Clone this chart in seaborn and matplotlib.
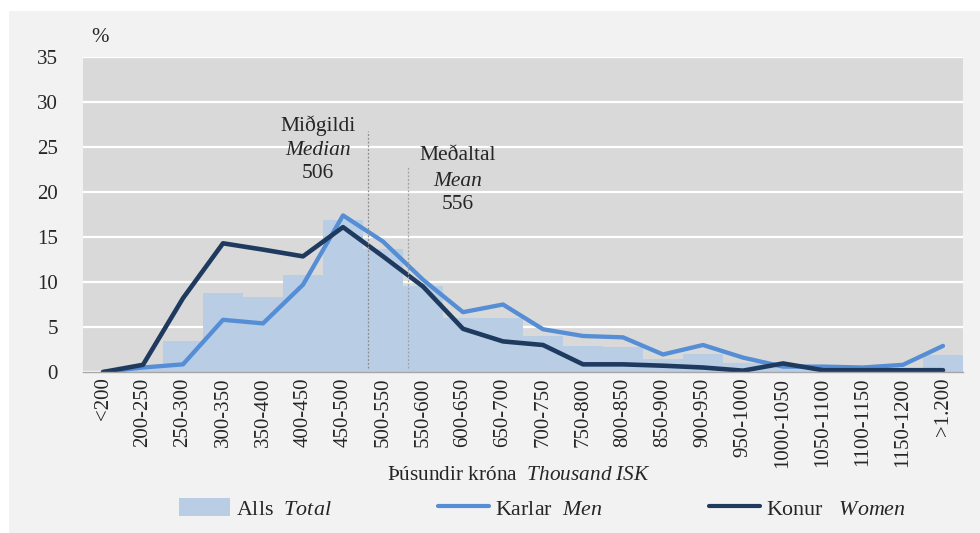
import numpy as np
import pandas as pd
import matplotlib.pyplot as plt
import seaborn as sns
from matplotlib.patches import Rectangle, Patch
from matplotlib.lines import Line2D

# income bins (thousand ISK)
categories = [
    "<200", "200-250", "250-300", "300-350", "350-400", "400-450", "450-500",
    "500-550", "550-600", "600-650", "650-700", "700-750", "750-800", "800-850",
    "850-900", "900-950", "950-1000", "1000-1050", "1050-1100", "1100-1150",
    "1150-1200", ">1.200",
]
total_pct = [0.0, 0.4, 3.4, 8.8, 8.3, 10.8, 16.9, 13.7, 9.6, 6.0, 6.0, 4.0,
             2.9, 2.75, 1.5, 2.0, 1.05, 0.6, 0.65, 0.55, 0.5, 1.9]
men_pct = [0.0, 0.5, 0.85, 5.8, 5.4, 9.7, 17.4, 14.5, 10.25, 6.65, 7.5, 4.75,
           4.0, 3.85, 1.95, 3.0, 1.6, 0.6, 0.6, 0.5, 0.8, 2.9]
women_pct = [0.0, 0.8, 8.2, 14.3, 13.6, 12.85, 16.1, 12.85, 9.5, 4.8, 3.4, 3.0,
             0.85, 0.85, 0.7, 0.5, 0.15, 0.95, 0.2, 0.2, 0.2, 0.2]
median_val = 506
mean_val = 556

SERIF = "Liberation Serif"
C_TOTAL = "#B9CDE5"
C_MEN = "#558ED5"
C_WOMEN = "#1F3A5F"


def value_to_pos(v):
    # bin "200-250" sits at index 1, i.e. 200 -> 0.5
    return (v - 200) / 50 + 0.5


def main() -> None:
    sns.set_style("white")
    plt.rcParams["font.family"] = [SERIF, "DejaVu Serif"]
    plt.rcParams["mathtext.fontset"] = "custom"
    plt.rcParams["mathtext.rm"] = SERIF
    plt.rcParams["mathtext.it"] = SERIF + ":italic"

    df = pd.DataFrame({"bin": categories, "total": total_pct})
    idx = np.arange(len(categories))

    fig = plt.figure(figsize=(9.8, 5.33), dpi=100, facecolor="white")
    fig.patches.append(Rectangle((9 / 980, 0), 1, 1 - 11 / 533, transform=fig.transFigure,
                                 facecolor="#F2F2F2", edgecolor="none", zorder=-10))
    ax = fig.add_axes([83 / 980, 1 - 372 / 533, 880 / 980, 315 / 533])
    ax.set_facecolor("#D9D9D9")

    sns.barplot(data=df, x="bin", y="total", color=C_TOTAL, width=1.0,
                saturation=1, ax=ax, zorder=2, linewidth=0, edgecolor=C_TOTAL)
    sns.lineplot(x=idx, y=men_pct, color=C_MEN, lw=3.1, ax=ax, zorder=3,
                 solid_capstyle="round")
    sns.lineplot(x=idx, y=women_pct, color=C_WOMEN, lw=3.3, ax=ax, zorder=4,
                 solid_capstyle="round")

    ax.set_ylim(0, 35)
    ax.set_xlim(-0.5, len(categories) - 0.5)
    ax.set_yticks(range(0, 36, 5))
    ax.yaxis.grid(True, color="white", lw=1.6, zorder=1)
    ax.set_axisbelow(True)
    for s in ["top", "right", "left"]:
        ax.spines[s].set_visible(False)
    ax.spines["bottom"].set_color("#A6A6A6")
    ax.spines["bottom"].set_linewidth(1)
    ax.spines["bottom"].set_zorder(5)
    ax.tick_params(axis="y", length=0, pad=18, labelsize=15)
    ax.tick_params(axis="x", length=0, pad=4, labelsize=15)
    ax.set_xticks(idx)
    ax.set_xticklabels(categories, rotation=90, va="top", ha="center")
    ax.set_xlabel("")
    ax.set_ylabel("")

    # median / mean markers
    med_x = value_to_pos(median_val)
    mean_x = value_to_pos(mean_val)
    ax.plot([med_x, med_x], [0.5, 26.8], ls=(0, (1.5, 1.5)), color="#8C8C8C", lw=0.9, zorder=5)
    ax.plot([mean_x, mean_x], [0.5, 22.9], ls=(0, (1.5, 1.5)), color="#A0A0A0", lw=0.9, zorder=5)

    ax.text(med_x - 1.25, 27.4, "Miðgildi", ha="center", va="center", fontsize=15.5)
    ax.text(med_x - 1.25, 24.6, "Median", ha="center", va="center", fontsize=15.5, style="italic")
    ax.text(med_x - 1.25, 22.0, str(median_val), ha="center", va="center", fontsize=15.5)
    ax.text(mean_x + 1.25, 24.0, "Meðaltal", ha="center", va="center", fontsize=15.5)
    ax.text(mean_x + 1.25, 21.2, "Mean", ha="center", va="center", fontsize=15.5, style="italic")
    ax.text(mean_x + 1.25, 18.6, str(mean_val), ha="center", va="center", fontsize=15.5)

    fig.text(100 / 980, 1 - 38 / 533, "%", ha="center", va="center", fontsize=15)
    fig.text(519 / 980, 1 - 476 / 533, r"Þúsundir króna  $\mathit{Thousand\ ISK}$",
             ha="center", va="center", fontsize=15.3)

    handles = [
        Patch(facecolor=C_TOTAL, edgecolor="none"),
        Line2D([], [], color=C_MEN, lw=3, solid_capstyle="round"),
        Line2D([], [], color=C_WOMEN, lw=3, solid_capstyle="round"),
    ]
    labels = [r"Alls  $\mathit{Total}$", r"Karlar  $\mathit{Men}$", r"Konur   $\mathit{Women}$"]
    fig.legend(handles, labels, loc="center", bbox_to_anchor=(542 / 980, 1 - 509 / 533),
               ncol=3, frameon=False, fontsize=15.8, handlelength=2.35, handleheight=0.9,
               handletextpad=0.25, columnspacing=4.85)

    fig.savefig("out.png", dpi=100, facecolor=fig.get_facecolor())
    plt.close(fig)


if __name__ == "__main__":
    main()
